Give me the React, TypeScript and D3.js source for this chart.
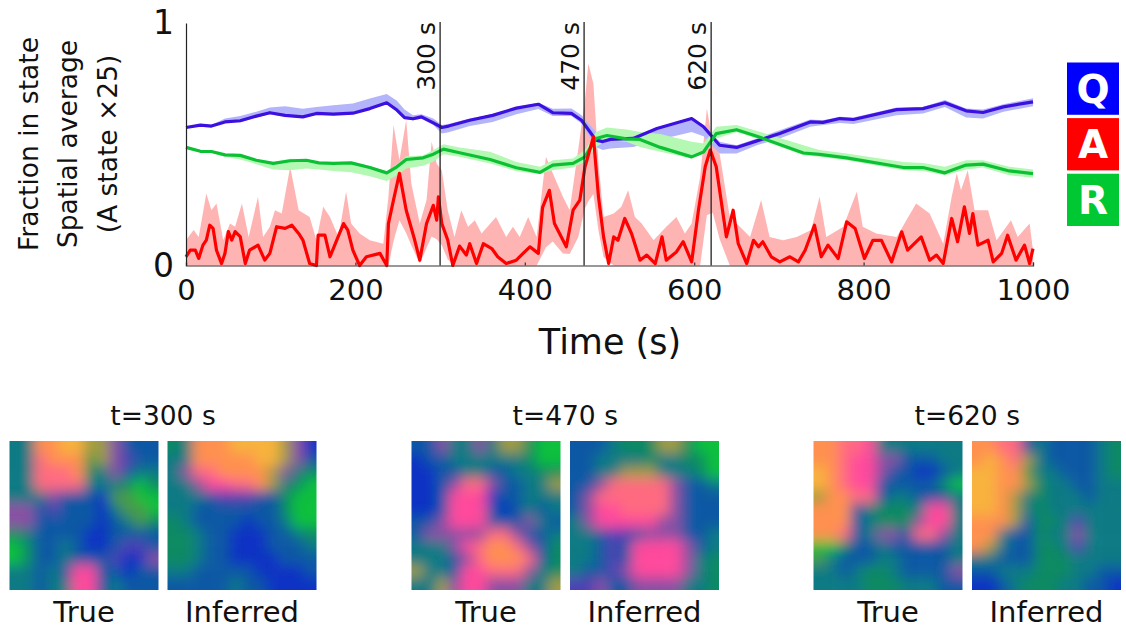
import * as d3 from "d3";
import { useEffect, useRef } from "react";

// blue (Q) series
const blueTimes = [0,17,30,46,64,83,99,117,138,154,174,197,217,237,249,258,268,278,292,302,310,335,362,390,416,433,455,467,484,492,501,528,556,597,611,630,650,674,701,737,752,772,788,839,870,896,921,941,965,1000];
const blueLine = [.569,.579,.575,.592,.597,.616,.63,.619,.613,.627,.624,.628,.647,.671,.641,.61,.605,.613,.588,.569,.575,.599,.619,.649,.665,.63,.627,.599,.517,.511,.52,.524,.565,.606,.572,.496,.487,.514,.544,.592,.59,.606,.602,.643,.647,.671,.638,.631,.654,.675];
const blueHigh = [.569,.583,.579,.606,.616,.634,.652,.657,.646,.654,.661,.668,.689,.707,.679,.643,.62,.624,.606,.579,.583,.606,.624,.654,.671,.646,.647,.62,.551,.517,.528,.533,.569,.61,.579,.51,.496,.524,.558,.602,.599,.613,.61,.652,.654,.682,.647,.643,.665,.69];
const blueLow = [.566,.576,.572,.59,.591,.61,.624,.613,.609,.621,.62,.624,.643,.665,.635,.605,.599,.605,.579,.544,.55,.575,.592,.624,.645,.616,.616,.586,.489,.476,.482,.489,.517,.551,.533,.462,.462,.496,.524,.572,.579,.588,.583,.62,.627,.654,.61,.606,.634,.657];

// green (R) series
const greenTimes = [0,17,30,46,64,83,103,123,142,157,174,195,217,237,249,260,280,292,304,323,359,390,418,433,457,471,484,497,520,536,560,597,611,626,650,674,729,748,780,847,870,896,921,941,972,1000];
const greenLine = [.487,.471,.47,.456,.454,.434,.421,.432,.434,.423,.421,.423,.404,.382,.407,.437,.444,.459,.48,.465,.437,.403,.384,.414,.421,.448,.524,.536,.522,.52,.487,.448,.468,.544,.56,.533,.464,.458,.444,.404,.404,.382,.414,.418,.39,.379];
const greenHigh = [.489,.476,.473,.459,.456,.438,.426,.44,.438,.427,.425,.427,.41,.388,.418,.451,.454,.476,.5,.487,.469,.427,.407,.434,.441,.476,.551,.569,.561,.551,.542,.51,.503,.572,.579,.555,.496,.476,.462,.427,.423,.407,.434,.434,.407,.396];
const greenLow = [.484,.469,.465,.448,.437,.418,.396,.393,.4,.396,.39,.385,.368,.348,.372,.4,.411,.428,.459,.448,.421,.389,.377,.393,.404,.428,.489,.517,.51,.489,.469,.441,.462,.524,.551,.524,.455,.448,.434,.393,.39,.372,.396,.404,.372,.362];

// red (A) series
const redTimes = [0,5,11,15,20,24,28,32,36,42,46,50,54,58,64,70,75,85,93,99,107,117,125,133,138,146,154,156,164,170,178,186,191,197,205,213,229,237,239,245,252,260,270,276,284,292,296,298,302,309,315,323,331,335,343,351,361,368,378,390,398,406,416,421,429,435,449,457,465,471,481,487,493,499,505,510,518,526,536,544,554,562,567,579,587,597,605,613,619,626,638,646,652,662,670,676,681,691,701,713,723,731,742,750,758,770,780,790,801,811,821,833,845,852,868,878,886,894,904,911,919,925,929,935,947,953,963,970,980,990,996,1000];
const redLine = [.036,.063,.063,.029,.084,.105,.166,.153,.063,.008,.05,.14,.105,.14,.119,.008,.063,.084,.022,.05,.16,.153,.166,.132,.105,.008,0,.125,.125,.036,.105,.173,.146,.063,0,.036,.05,0,.173,.27,.38,.228,.105,.022,.173,.248,.187,.283,.173,.105,0,.08,.043,.09,.008,.09,.07,.036,.008,.022,.05,.077,.05,.24,.31,.173,.077,.228,.27,.406,.53,.283,.118,.008,.118,.104,.194,.132,.022,.043,.008,.118,.022,.056,.098,.015,.228,.407,.476,.407,.118,.228,.09,.008,.104,.077,.098,.036,.015,.036,.015,.063,.166,.036,.084,.029,.18,.153,.029,.104,.104,.015,.139,.063,.118,.022,.043,.008,.194,.098,.242,.132,.214,.084,.104,.015,.05,.125,.022,.084,.008,.07];
const redTopTimes = [0,9,15,24,30,36,44,52,58,66,74,85,91,99,105,113,123,133,146,154,162,170,180,189,195,205,217,233,239,245,252,260,266,276,284,290,296,302,309,317,325,333,341,349,366,378,386,394,404,414,425,433,445,453,463,471,475,481,487,493,505,514,522,530,538,552,567,579,589,597,607,615,622,630,642,654,666,679,689,705,721,738,748,756,776,792,799,815,839,862,878,894,904,910,915,923,931,947,957,974,982,996,1000];
const redTop = [.104,.146,.118,.297,.228,.256,.104,.173,.16,.256,.118,.283,.118,.16,.228,.214,.407,.228,.2,.104,.242,.2,.118,.304,.173,.132,.104,.09,.283,.579,.434,.6,.338,.173,.27,.51,.42,.393,.228,.118,.228,.16,.187,.132,.2,.118,.16,.118,.2,.118,.448,.38,.283,.228,.476,.682,.833,.75,.42,.2,.214,.242,.31,.2,.173,.104,.16,.2,.132,.173,.366,.647,.503,.462,.2,.16,.118,.27,.118,.104,.118,.146,.283,.118,.16,.304,.16,.132,.118,.256,.214,.09,.283,.38,.31,.393,.228,.228,.104,.187,.118,.173,.063];
const redBottomTimes = [0,240,250,262,275,290,300,312,420,428,440,450,462,472,482,490,500,610,616,625,636,1000];
const redBottom = [0,0,.2,.12,0,.12,.1,0,0,.12,.07,.03,.1,.25,.3,.05,0,0,.25,.2,0,0];

const eventTimes = [300, 470, 620];
const xTicks = [0, 200, 400, 600, 800, 1000];
const legendLabels = ["Q", "A", "R"];
const legendColors = ["#0000ff", "#ff0000", "#00c832"];
const yLabels = ["Fraction in state", "Spatial average", "(A state ×25)"];

// spatial maps, one letter per cell, coded by the palette below
const paletteKeys = "bnteglkmvprozy".split("");
const paletteColors = ["#0a30c4", "#0d58a4", "#0f7a84", "#0b8a62", "#08c03c", "#4c9a48", "#a09c40", "#8a50a4", "#5040b4", "#ff4a9c", "#ff6a80", "#ff9050", "#ff9050", "#f8b23c"];
const panelTitles = ["t=300 s", "t=470 s", "t=620 s"];
const panelNames = ["True", "Inferred"];
const maps300True = ["ttooyykkmnnn","ttrooolkmvnn","ttrrroetmntt","ttrrrrtttege","tttmnnnbllgg","mmnvnnnbtllg","mmnnnnnbntle","etnnnnbbnnnn","genntnbbnvvn","genntnnnvbbm","ttntnppnnbnn","ttnttppntnnn"];
const maps300Inferred = ["etoooyyyykmb","ttoooooyykmn","tmrrooookmte","ttmpprrokteg","tttnvvvnnegg","ttnnnnnnnegg","etnnnnbnntgg","eetnnbbbnnte","eetnnbbbnnnt","eetnnbbbbnnn","ttnnnnnbbbbn","nnnnntnnbbbb"];
const maps470True = ["nnmttmtkkegg","bnnttttttegg","bbnnttnnttee","bbnmrrmnnttk","bbnpppbnnttt","bbnpppnbntnt","nnmpppnnnmtn","nmmmmmrrmnnt","tttmproormne","tttnmrooorne","kttnpprrrmte","ttkmppmmmttk"];
const maps470Inferred = ["nnnteeekkegg","nnttttetteeg","nnttkkkttteg","nnmrrrrrmnnt","nmrrrrrrmnnn","nmpprrrrmnnn","tmpppppmmnnn","ttnvvnmmmnnt","ttnvnppppmnt","ttnvnppppmte","tnnvmppppmte","vvmnnmmmmtte"];
const maps620True = ["oorrpttttttt","oorppmmnnntt","yorppmnnbbnt","yorppnnnnneg","koorrnttnnnt","ooonteeetppt","ooonteeemppt","oorntmmnrrmt","ggenntnnnnnt","ltnnnttnnnnt","ttnteetnnnnm","tttteeetttnn"];
const maps620Inferred = ["oorrntnnnnte","oyorktnnnnte","yyoolttnnnte","yyookettnntt","yyoktetttntt","yyoktetttttt","oookneetvttt","ootnnettmttt","oktnneetvttt","ttnnneeetttt","nnttteeettnn","bbnteeettnnb"];
const mapGroups = [[maps300True, maps300Inferred], [maps470True, maps470Inferred], [maps620True, maps620Inferred]];

const font = "'DejaVu Sans', sans-serif";
const panelLefts = [[9.5, 167.5], [411.5, 570], [813.5, 972]];
const panelSize = 149;

const App = () => {
  const ref = useRef<SVGSVGElement>(null);

  useEffect(() => {
    const svg = d3.select(ref.current);
    svg.selectAll("*").remove();

    const x = d3.scaleLinear().domain([0, 1000]).range([186, 1033]);
    const y = d3.scaleLinear().domain([0, 1]).range([265.5, 23]);

    const band = (times, hi, lo, fill) => {
      const area = d3.area().x((_, i) => x(times[i])).y0((_, i) => y(lo[i])).y1((d) => y(d));
      svg.append("path").attr("d", area(hi)).attr("fill", fill).attr("stroke", "none");
    };
    const line = (times, vals, stroke, w) => {
      const l = d3.line().x((_, i) => x(times[i])).y((d) => y(d));
      svg.append("path").attr("d", l(vals)).attr("fill", "none").attr("stroke", stroke).attr("stroke-width", w).attr("stroke-linejoin", "round");
    };

    // lower edge of the red band is read at fewer times than the top
    const redLowAt = d3.scaleLinear().domain(redBottomTimes).range(redBottom);
    band(redTopTimes, redTop, redTopTimes.map((t) => redLowAt(t)), "#ffb4b4");
    band(blueTimes, blueHigh, blueLow, "#b4b4fa");
    band(greenTimes, greenHigh, greenLow, "#b4f8b4");
    line(blueTimes, blueLine, "#3c10e0", 3.2);
    line(greenTimes, greenLine, "#0cc034", 3.2);
    line(redTimes, redLine, "#ff0000", 3.2);

    // axes
    const xAxis = svg.append("g").attr("transform", `translate(0,${y(0)})`)
      .call(d3.axisBottom(x).tickValues(xTicks).tickSize(-3).tickPadding(14).tickFormat(d3.format("d")));
    xAxis.selectAll("text").attr("font-family", font).attr("font-size", 29).attr("fill", "#111");
    xAxis.selectAll("path,line").attr("stroke", "#333").attr("stroke-width", 1.2);
    const yAxis = svg.append("g").attr("transform", `translate(${x(0)},0)`)
      .call(d3.axisLeft(y).tickValues([0, 1]).tickSize(0).tickPadding(12).tickFormat(d3.format("d")));
    yAxis.selectAll("text").attr("font-family", font).attr("font-size", 33).attr("fill", "#111");
    yAxis.selectAll("path").attr("stroke", "#222").attr("stroke-width", 1.2);

    // event markers
    eventTimes.forEach((t) => {
      svg.append("line").attr("x1", x(t)).attr("x2", x(t)).attr("y1", y(1) - 1).attr("y2", y(0))
        .attr("stroke", "#222").attr("stroke-width", 1.3);
      svg.append("text").attr("transform", `translate(${x(t) - 5},${y(1) - 1}) rotate(-90)`)
        .attr("text-anchor", "end").attr("font-family", font).attr("font-size", 25).attr("fill", "#111")
        .text(`${t} s`);
    });

    svg.append("text").attr("x", 610).attr("y", 354).attr("text-anchor", "middle")
      .attr("font-family", font).attr("font-size", 35).attr("fill", "#111").text("Time (s)");

    yLabels.forEach((label, i) => {
      svg.append("text").attr("transform", `translate(${[38, 77, 117][i]},${[144, 144, 144][i]}) rotate(-90)`)
        .attr("text-anchor", "middle").attr("font-family", font).attr("font-size", 26.5).attr("fill", "#111").text(label);
    });

    // legend
    const legendY = d3.scaleBand().domain(legendLabels).range([62.5, 226]).paddingInner(0.06);
    legendLabels.forEach((label, i) => {
      svg.append("rect").attr("x", 1067).attr("y", legendY(label)).attr("width", 52).attr("height", legendY.bandwidth()).attr("fill", legendColors[i]);
      svg.append("text").attr("x", 1093).attr("y", legendY(label) + legendY.bandwidth() / 2 + 14)
        .attr("text-anchor", "middle").attr("font-family", font).attr("font-weight", "bold").attr("font-size", 39).attr("fill", "#fff").text(label);
    });

    // spatial maps
    const color = d3.scaleOrdinal().domain(paletteKeys).range(paletteColors);
    const defs = svg.append("defs");
    defs.append("filter").attr("id", "soft").attr("filterUnits", "userSpaceOnUse")
      .attr("x", 0).attr("y", 400).attr("width", 1126).attr("height", 228)
      .append("feGaussianBlur").attr("stdDeviation", 6.5);

    mapGroups.forEach((pair, g) => {
      const titleX = (panelLefts[g][0] + panelLefts[g][1] + panelSize) / 2;
      svg.append("text").attr("x", titleX).attr("y", 425).attr("text-anchor", "middle")
        .attr("font-family", font).attr("font-size", 26.5).attr("fill", "#111").text(panelTitles[g]);
      pair.forEach((rows, p) => {
        const left = panelLefts[g][p];
        const top = 441;
        const id = `clip-${g}-${p}`;
        defs.append("clipPath").attr("id", id).append("rect")
          .attr("x", left).attr("y", top).attr("width", panelSize).attr("height", panelSize);
        const cx = d3.scaleBand().domain(d3.range(rows[0].length)).range([left, left + panelSize]);
        const cy = d3.scaleBand().domain(d3.range(rows.length)).range([top, top + panelSize]);
        const w = cx.bandwidth();
        const h = cy.bandwidth();
        const pad = 24; // outer cells run past the clip so the blur does not fade at the edge
        const last = rows.length - 1;
        const holder = svg.append("g").attr("clip-path", `url(#${id})`).append("g").attr("filter", "url(#soft)");
        rows.forEach((row, r) => {
          row.split("").forEach((key, c) => {
            const x0 = cx(c) - (c === 0 ? pad : 0);
            const x1 = cx(c) + w + (c === last ? pad : 0) + 0.5;
            const y0 = cy(r) - (r === 0 ? pad : 0);
            const y1 = cy(r) + h + (r === last ? pad : 0) + 0.5;
            holder.append("rect").attr("x", x0).attr("y", y0).attr("width", x1 - x0).attr("height", y1 - y0).attr("fill", color(key));
          });
        });
        svg.append("text").attr("x", left + panelSize / 2).attr("y", 622).attr("text-anchor", "middle")
          .attr("font-family", font).attr("font-size", 29).attr("fill", "#111").text(panelNames[p]);
      });
    });
  }, []);

  return <svg ref={ref} width={1126} height={628} style={{ position: "absolute", left: 0, top: 0 }} />;
};

export default App;
